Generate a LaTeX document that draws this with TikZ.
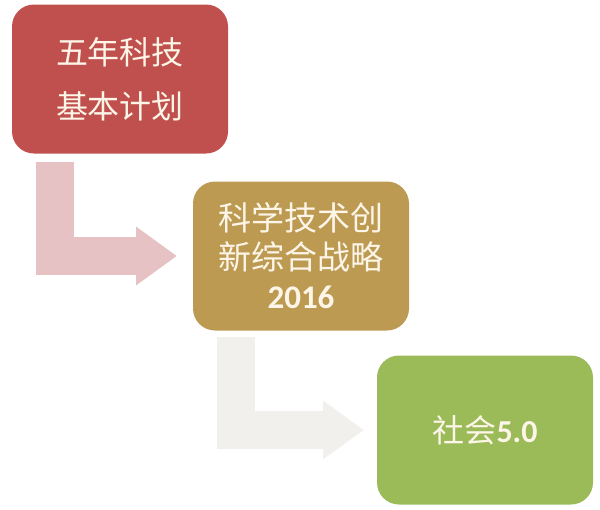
\documentclass[tikz,border=0pt]{standalone}
\usepackage{fontspec}
\setmainfont{Carlito}
\newfontfamily\cjk{Noto Sans CJK SC}
\usepackage{tikz}
\usetikzlibrary{arrows.meta,positioning}

\definecolor{planred}{HTML}{C0504D}
\definecolor{stratgold}{HTML}{BD9A52}
\definecolor{socgreen}{HTML}{9BBB59}
\definecolor{pinkarr}{HTML}{E6C2C5}
\definecolor{grayarr}{HTML}{F1F0EC}
\definecolor{cream}{HTML}{FCF5E8}

\begin{document}
\begin{tikzpicture}[
  x=1pt, y=-1pt,
  stage/.style={rounded corners=22pt, minimum width=216pt, minimum height=149pt,
    align=center, inner sep=0pt, text=cream},
  fatarrow/.style={line width=38pt, line join=miter,
    -{Triangle[length=41pt,width=56pt]}},
  every node/.style={outer sep=0pt}
]
  \useasboundingbox (0,0) rectangle (600,509);

  % Stages
  \node[stage, fill=planred, font=\cjk\fontsize{32pt}{54pt}\selectfont] (plan) at (120,79)
    {五年科技\\基本计划};
  \node[stage, fill=stratgold, font=\fontsize{33pt}{39pt}\selectfont,
    below right=28pt and -35pt of plan] (strat)
    {{\cjk 科学技术创}\\{\cjk 新综合战略}\\\textbf{2016}};
  \node[stage, fill=socgreen, font=\fontsize{32pt}{36pt}\selectfont,
    below right=25pt and -32pt of strat] (soc)
    {{\cjk 社会}\textbf{5.0}};

  % Bent arrows
  \draw[fatarrow, draw=pinkarr]
    ([xshift=43pt,yshift=-8pt]plan.south west) |- ([xshift=-16pt]strat.west);
  \draw[fatarrow, draw=grayarr]
    ([xshift=43pt,yshift=-6pt]strat.south west) |- ([xshift=-13pt]soc.west);
\end{tikzpicture}
\end{document}
